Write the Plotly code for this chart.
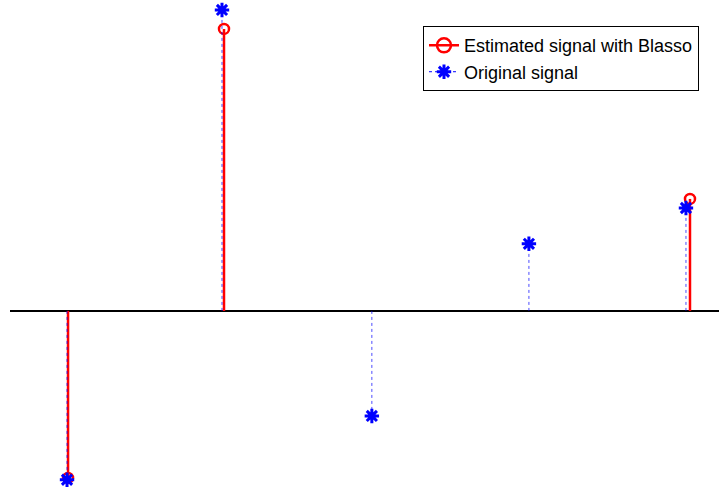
import plotly.graph_objects as go

# Spike positions and amplitudes
orig_t = [0.1, 0.3003, 0.494, 0.697, 0.9]
orig_amp = [-0.561, 1.0, -0.349, 0.223, 0.342]

est_t = [0.1013, 0.3029, 0.9052]
est_amp = [-0.555, 0.937, 0.372]

RED = "#ff0000"
BLUE = "#0000ff"


def stem_xy(ts, amps):
    xs, ys = [], []
    for t, a in zip(ts, amps):
        xs += [t, t, None]
        ys += [0, a, None]
    return xs, ys


fig = go.Figure()

ex, ey = stem_xy(est_t, est_amp)
fig.add_trace(go.Scatter(x=ex, y=ey, mode="lines",
                         line=dict(color=RED, width=2.5),
                         showlegend=False, hoverinfo="skip"))
fig.add_trace(go.Scatter(x=est_t, y=est_amp, mode="markers",
                         marker=dict(symbol="circle-open", size=10, color=RED,
                                     line=dict(color=RED, width=2.5)),
                         showlegend=False))

ox, oy = stem_xy(orig_t, orig_amp)
fig.add_trace(go.Scatter(x=ox, y=oy, mode="lines",
                         line=dict(color=BLUE, width=1, dash="dot"),
                         opacity=0.7,
                         showlegend=False, hoverinfo="skip"))
fig.add_trace(go.Scatter(x=orig_t, y=orig_amp, mode="markers",
                         marker=dict(symbol="asterisk-open", size=12, color=BLUE,
                                     line=dict(color=BLUE, width=3)),
                         showlegend=False))

# Legend entries
fig.add_trace(go.Scatter(x=[None], y=[None], mode="lines+markers",
                         name="Estimated signal with Blasso",
                         line=dict(color=RED, width=2.5),
                         marker=dict(symbol="circle-open", size=14, color=RED,
                                     line=dict(color=RED, width=2.5))))
fig.add_trace(go.Scatter(x=[None], y=[None], mode="lines+markers",
                         name="Original signal",
                         line=dict(color=BLUE, width=1, dash="dot"),
                         marker=dict(symbol="asterisk-open", size=12, color=BLUE,
                                     line=dict(color=BLUE, width=3))))

fig.update_layout(
    width=719, height=493,
    margin=dict(l=10, r=0, t=0, b=0),
    paper_bgcolor="white", plot_bgcolor="white",
    font=dict(family="Liberation Sans, Arial, sans-serif", size=18, color="black"),
    xaxis=dict(range=[0.0263, 0.9427], showgrid=False, zeroline=False,
               showticklabels=False, showline=False, ticks=""),
    yaxis=dict(range=[-0.605, 1.033], showgrid=False, zeroline=True,
               zerolinecolor="black", zerolinewidth=2,
               showticklabels=False, showline=False, ticks=""),
    legend=dict(x=0.5825, y=0.947, xanchor="left", yanchor="top",
                bgcolor="white", bordercolor="black", borderwidth=1,
                tracegroupgap=0, itemwidth=30,
                font=dict(size=18)),
    showlegend=True,
)

fig.write_html("out.html")
